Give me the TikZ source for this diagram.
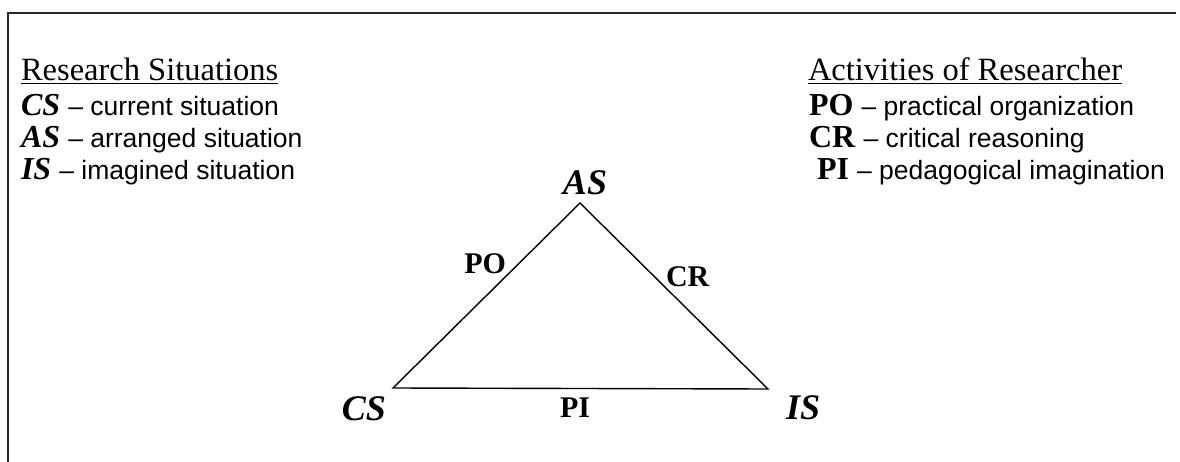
\documentclass[tikz,border=0pt]{standalone}
\usepackage{fontspec}
\setmainfont{Liberation Serif}
\setsansfont{Liberation Sans}
\begin{document}
\begin{tikzpicture}[x=1pt,y=-1pt,
  txt/.style={inner sep=0pt,outer sep=0pt,anchor=base west,font=\fontsize{32.5}{39}\selectfont},
  vtx/.style={inner sep=0pt,outer sep=0pt,font=\bfseries\itshape\fontsize{36}{43}\selectfont},
  edg/.style={inner sep=0pt,outer sep=0pt,font=\bfseries\fontsize{30}{36}\selectfont}]
\newcommand{\key}[1]{{\fontsize{32}{38}\selectfont#1}}
\newcommand{\desc}[1]{{\sffamily\fontsize{26.5}{32}\selectfont#1}}
\path[use as bounding box] (0,0) rectangle (1180,462);
% frame
\draw[line width=1.2pt,black!85] (1176,13) -- (8,13) -- (8,462);
% legend, left
\node[txt] (hdsit) at (21,81) {\underline{Research Situations}};
\node[txt] (legcs) at (21,116) {\key{\textbf{\textit{CS}}} \desc{– current situation}};
\node[txt] (legas) at (21,148) {\key{\textbf{\textit{AS}}} \desc{– arranged situation}};
\node[txt] (legis) at (21,180) {\key{\textbf{\textit{IS}}} \desc{– imagined situation}};
% legend, right
\node[txt] (hdact) at (808,81) {\underline{Activities of Researcher}};
\node[txt] (legpo) at (809,116) {\key{\textbf{PO}} \desc{– practical organization}};
\node[txt] (legcr) at (809,148) {\key{\textbf{CR}} \desc{– critical reasoning}};
\node[txt] (legpi) at (817,180) {\key{\textbf{PI}} \desc{– pedagogical imagination}};
% triangle
\coordinate (cs) at (393,388);
\coordinate (as) at (580,203);
\coordinate (is) at (768,389);
\draw[line width=1.4pt] (cs) -- (as) -- (is) -- cycle;
\node[vtx,anchor=base] (lblas) at (585,195) {AS};
\node[vtx,anchor=base east] (lblcs) at (386,420) {CS};
\node[vtx,anchor=base west] (lblis) at (786,419) {IS};
\node[edg,anchor=base east] (lblpo) at (506,273) {PO};
\node[edg,anchor=base west] (lblcr) at (666,287) {CR};
\node[edg,anchor=base] (lblpi) at (575,417) {PI};
\end{tikzpicture}
\end{document}
